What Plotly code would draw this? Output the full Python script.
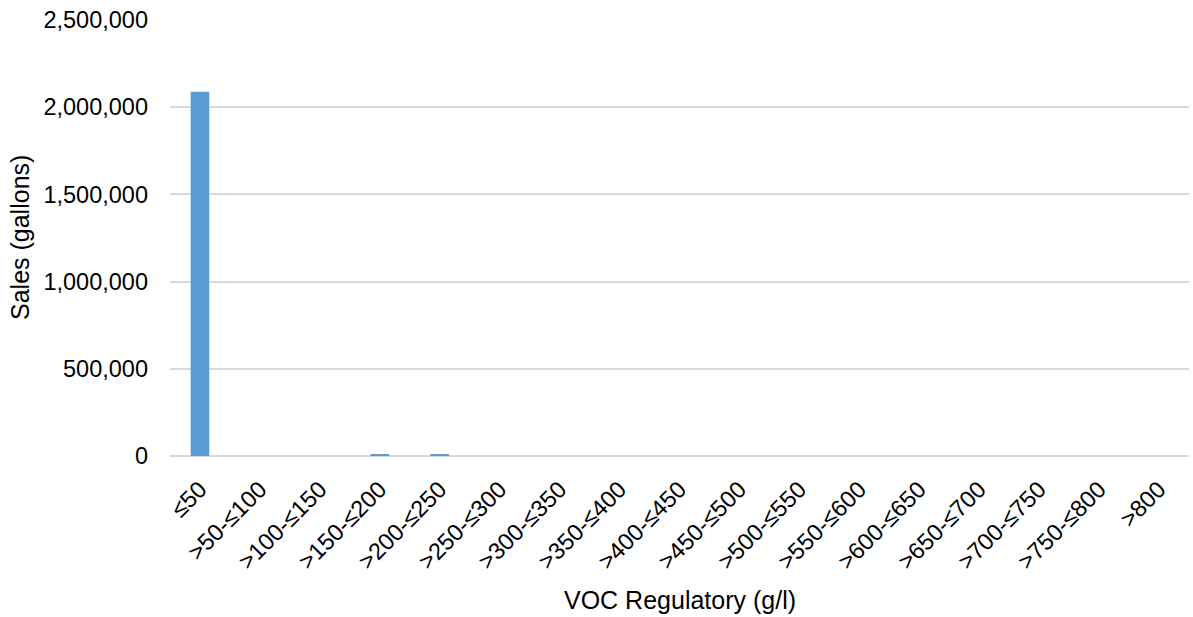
import plotly.graph_objects as go

categories = ["≤50", ">50-≤100", ">100-≤150", ">150-≤200", ">200-≤250", ">250-≤300",
              ">300-≤350", ">350-≤400", ">400-≤450", ">450-≤500", ">500-≤550",
              ">550-≤600", ">600-≤650", ">650-≤700", ">700-≤750", ">750-≤800", ">800"]
sales = [2089000, 0, 0, 9000, 7000, 0, 0, 0, 0, 0, 0, 0, 0, 0, 0, 0, 0]
y_ticks = [0, 500000, 1000000, 1500000, 2000000, 2500000]
y_tick_labels = ["0", "500,000", "1,000,000", "1,500,000", "2,000,000", "2,500,000"]

FONT = "Liberation Sans, Arial, sans-serif"
TICK = 23.5
TITLE = 25

W, H = 1193, 617
ML, MR, MT, MB = 170, 4, 20, 161
plot_w = W - ML - MR
plot_h = H - MT - MB

fig = go.Figure(go.Bar(
    x=categories, y=sales,
    marker=dict(color="#5B9BD5", line=dict(width=0)),
))

fig.update_layout(
    width=W, height=H,
    margin=dict(l=ML, r=MR, t=MT, b=MB, autoexpand=False),
    paper_bgcolor="white", plot_bgcolor="white",
    bargap=0.69,
    showlegend=False,
    font=dict(family=FONT, color="#000000", size=TICK),
    xaxis=dict(
        type="category",
        automargin=False,
        tickangle=-45,
        tickfont=dict(size=TICK, family=FONT, color="#000000"),
        showgrid=False,
        showline=False,
        ticks="",
        ticklabelstandoff=14,
    ),
    yaxis=dict(
        automargin=False,
        range=[0, 2500000],
        tickvals=y_ticks, ticktext=y_tick_labels,
        tickfont=dict(size=TICK, family=FONT, color="#000000"),
        showgrid=True, gridcolor="#d9d9d9", gridwidth=2,
        zeroline=True, zerolinecolor="#d9d9d9", zerolinewidth=2,
        showline=False, ticks="", ticklen=0,
        ticklabelstandoff=21,
    ),
    annotations=[
        dict(text="VOC Regulatory (g/l)", xref="paper", yref="paper",
             x=(680 - ML) / plot_w, y=(456 - 600) / plot_h,
             xanchor="center", yanchor="middle", showarrow=False,
             font=dict(size=TITLE, family=FONT, color="#000000")),
        dict(text="Sales (gallons)", xref="paper", yref="paper",
             x=(20 - ML) / plot_w, y=(456 - 238) / plot_h,
             xanchor="center", yanchor="middle", showarrow=False, textangle=-90,
             font=dict(size=TITLE, family=FONT, color="#000000")),
    ],
)

fig.write_html("out.html", config={"displayModeBar": False},
               post_script="document.body.style.margin='0';")
